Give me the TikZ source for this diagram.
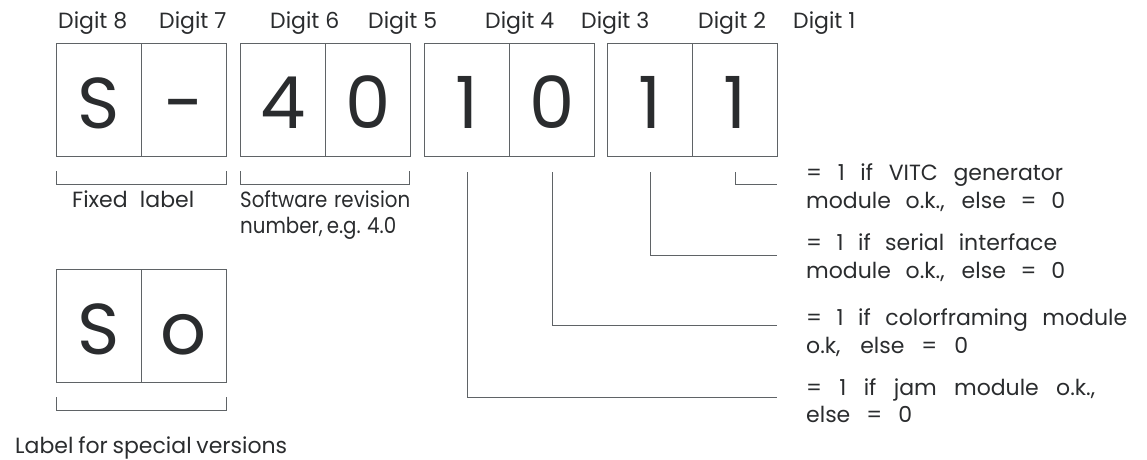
\documentclass[tikz,border=0pt]{standalone}
\usepackage{fontspec}
\setmainfont{Poppins}
\definecolor{ink}{HTML}{2A2C2E}
\definecolor{rulegray}{HTML}{5F6366}
\newcommand{\jline}[2]{\makebox[#1pt][s]{#2}}
\newcommand{\nline}[2]{\scalebox{0.9}[1]{\makebox[#1pt][s]{#2}}}
\begin{document}
\begin{tikzpicture}[x=1pt,y=-1pt,
  font=\fontsize{22}{26}\selectfont, text=ink,
  cell/.style={draw=rulegray, line width=1pt, minimum width=85pt, minimum height=113pt,
    inner sep=0pt, anchor=north west, text height=56pt, text depth=0pt,
    font=\fontsize{72}{72}\selectfont},
  lab/.style={anchor=base west, inner sep=0pt},
  lead/.style={draw=rulegray, line width=1pt}]
\useasboundingbox (0,0) rectangle (1147,459);

% digit labels
\node[lab] (d8) at (58,28) {Digit 8};
\node[lab] (d7) at (159,28) {Digit 7};
\node[lab] (d6) at (270,28) {Digit 6};
\node[lab] (d5) at (368,28) {Digit 5};
\node[lab] (d4) at (485,28) {Digit 4};
\node[lab] (d3) at (581,28) {Digit 3};
\node[lab] (d2) at (698,28) {Digit 2};
\node[lab] (d1) at (793,28) {Digit 1};

% cells
\node[cell] (ca) at (56,43) {S};
\node[cell] (cb) at (141,43) {-};
\node[cell] (cc) at (240,43) {4};
\node[cell] (cd) at (325,43) {0};
\node[cell] (ce) at (424,43) {1};
\node[cell] (cf) at (509,43) {0};
\node[cell] (cg) at (607,43) {1};
\node[cell] (ch) at (692,43) {1};
\node[cell] (la) at (56,269) {S};
\node[cell] (lb) at (141,269) {o};

% brackets
\draw[lead] (56,171) -- (56,184) -- (226,184) -- (226,171);
\draw[lead] (240,171) -- (240,184) -- (409,184) -- (409,171);
\draw[lead] (56,397) -- (56,410) -- (226,410) -- (226,397);

% bracket texts
\node[lab] (fix) at (72,207) {\jline{122}{Fixed label}};
\node[lab] (sw1) at (240,207) {\nline{189}{Software revision}};
\node[lab] (sw2) at (240,233) {\nline{147}{number, e.g. 4.0}};
\node[lab] (spec) at (15,453) {\jline{272}{Label for special versions}};

% right texts
\node[lab] (t1) at (806,180) {\jline{257}{= 1 if VITC generator}};
\node[lab] (t2) at (806,208) {\jline{259}{module o.k., else = 0}};
\node[lab] (t3) at (806,250) {\jline{251}{= 1 if serial interface}};
\node[lab] (t4) at (806,278) {\jline{259}{module o.k., else = 0}};
\node[lab] (t5) at (806,325) {\jline{321}{= 1 if colorframing module}};
\node[lab] (t6) at (806,353) {\jline{162}{o.k, else = 0}};
\node[lab] (t7) at (806,395) {\jline{289}{= 1 if jam module o.k.,}};
\node[lab] (t8) at (806,422) {\jline{106}{else = 0}};

% leader ends
\coordinate (e1) at (777,184);
\coordinate (e2) at (777,255);
\coordinate (e3) at (777,325);
\coordinate (e4) at (777,397);

\draw[lead] ([yshift=-15pt]ch.south) |- (e1);
\draw[lead] ([yshift=-15pt]cg.south) |- (e2);
\draw[lead] ([yshift=-15pt]cf.south) |- (e3);
\draw[lead] ([yshift=-15pt]ce.south) |- (e4);
\end{tikzpicture}
\end{document}
